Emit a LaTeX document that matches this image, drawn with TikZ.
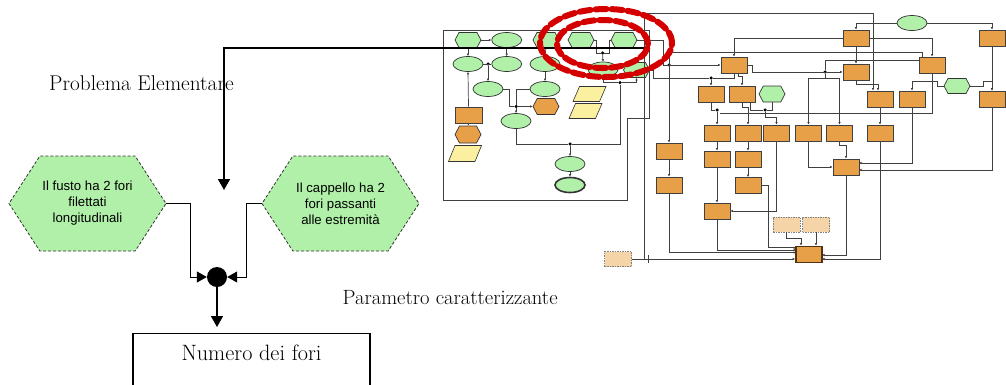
\documentclass[tikz,border=0pt]{standalone}
\usepackage{fontspec}
\newfontfamily\arialf{Liberation Sans}
\usetikzlibrary{arrows.meta,shapes.geometric,shapes.symbols}
\definecolor{hexgreen}{RGB}{176,240,168}
\definecolor{orangec}{RGB}{232,160,72}
\definecolor{yellowc}{RGB}{250,240,160}
\definecolor{peach}{RGB}{245,212,168}
\definecolor{redc}{RGB}{212,0,0}
\definecolor{brownc}{RGB}{80,50,20}
\begin{document}
\begin{tikzpicture}[x=1pt,y=-1pt,
  bighex/.style={signal, signal to=east and west, signal pointer angle=114,
    minimum width=157pt, minimum height=95pt, inner sep=0pt, fill=hexgreen,
    draw=black!80, dash pattern=on 3pt off 2pt, line width=0.8pt,
    font=\arialf\fontsize{13.2}{16}\selectfont, align=center},
  serif/.style={inner sep=0pt, font=\fontsize{21.3}{25}\selectfont},
  thinconn/.style={draw=black, line width=1pt, -{Triangle[length=10pt,width=11pt]}},
  thickconn/.style={draw=black, line width=1.6pt, -{Triangle[length=11pt,width=12pt]}},
  tb/.style={draw=black!75, line width=0.9pt, fill=orangec, minimum width=26pt, minimum height=16pt, inner sep=0pt},
  th/.style={signal, signal to=east and west, signal pointer angle=124, draw=black!80, line width=0.7pt, fill=hexgreen, minimum width=26pt, minimum height=15pt, inner sep=0pt},
  toh/.style={th, fill=orangec},
  te/.style={ellipse, draw=black!80, line width=0.7pt, fill=hexgreen, minimum width=30pt, minimum height=15pt, inner sep=0pt},
  tp/.style={minimum width=34pt, minimum height=16pt, inner sep=0pt,
    path picture={\draw[fill=yellowc, draw=black!80, line width=0.6pt]
      ([xshift=0.5pt,yshift=0.5pt]path picture bounding box.south west) --
      ([xshift=-7pt,yshift=0.5pt]path picture bounding box.south east) --
      ([xshift=-0.5pt,yshift=-0.5pt]path picture bounding box.north east) --
      ([xshift=7pt,yshift=-0.5pt]path picture bounding box.north west) -- cycle;}},
  td/.style={draw=black!50, dash pattern=on 1.5pt off 1pt, line width=0.6pt, fill=peach, minimum width=27pt, minimum height=15pt, inner sep=0pt},
  tl/.style={draw=black!75, line width=0.7pt},
  ta/.style={tl, -{Latex[length=2.5pt,width=2.5pt]}},
  jd/.style={circle, fill=black, minimum size=3.5pt, inner sep=0pt},
  redring/.style={draw=redc, line width=6pt, dash pattern=on 11pt off 5pt, line cap=round}
]
\useasboundingbox (0,0) rectangle (1006,384);

% ---------------- main (left) part ----------------
\node[serif, anchor=west] (pe) at (49,83) {Problema Elementare};
\node[serif, anchor=west, font=\fontsize{20.6}{24}\selectfont] (pc) at (342.5,298) {Parametro caratterizzante};
\node[bighex] (hexL) at (87.5,203.5) {Il fusto ha 2 fori\\filettati\\longitudinali};
\node[bighex] (hexR) at (340.5,203.5) {Il cappello ha 2\\fori passanti\\alle estremità};
\node[circle, fill=black, minimum size=20pt, inner sep=0pt] (junc) at (217,277) {};
\node[draw=black, line width=1.2pt, minimum width=237pt, minimum height=100pt, anchor=north, inner sep=0pt] (box) at (251.5,333) {};
\node[serif, font=\fontsize{22.2}{26}\selectfont] (boxlabel) at (251.5,353) {Numero dei fori};

\draw[thinconn] (hexL.east) -- (190,203.5) |- (junc.west);
\draw[thinconn] (hexR.west) -- (246,203.5) |- (junc.east);
\draw[thickconn, shorten >=6pt] (junc.south) -- (junc.south |- box.north);

% ---------------- thumbnail: left sub-diagram ----------------
\draw[tl] (443,30) -- (649,30) -- (649,118) -- (627,118) -- (627,200) -- (443,200) -- cycle;
\node[th] (LH1) at (468,40) {};
\node[te] (LE1) at (506.7,40) {};
\node[th] (LH2) at (546,40) {};
\node[th] (LH3) at (581,40) {};
\node[th] (LH4) at (624,40) {};
\node[te] (LE2) at (468,64) {};
\node[te] (LE3) at (506.7,64) {};
\node[te] (LE4) at (545,64) {};
\node[te] (LE5) at (603,69.5) {};
\node[th] (LH5) at (636.5,70) {};
\node[te] (LE6) at (488,89) {};
\node[te] (LE7) at (545,89) {};
\node[tp] (LP1) at (589.5,94) {};
\node[tp] (LP2) at (585.5,111) {};
\node[tb, minimum width=27pt] (LB1) at (468.5,115) {};
\node[toh, minimum height=16pt] (LOH1) at (546,106.5) {};
\node[te] (LE8) at (516,121) {};
\node[toh, minimum height=17pt] (LOH2) at (468,134.5) {};
\node[tp, minimum height=17pt] (LP3) at (465,153.5) {};
\node[te] (LE9) at (570,164) {};
\node[te, line width=1.6pt] (LE10) at (570,185) {};

\node[jd] (j6) at (488,64) {};
\node[jd] (j7) at (516,106.5) {};
\node[jd] (j8) at (570,144) {};
\node[jd] (j9) at (620,82.7) {};
\node[jd] (j10) at (602.5,53) {};

\draw[ta] (LH1.south) -- (LE2.north);
\draw[ta] (LH1.east) -- (LE1.west);
\draw[ta] (LE1.south) -- (LE3.north);
\draw[tl] (LE2.east) -- (LE3.west);
\draw[ta] (j6) -- (LE6.north);
\draw[ta] (LH2.south) -- (LE4.north);
\draw[ta] (LE4.south) -- (LE7.north);
\draw[tl] (LE6.east) -- (509,89) |- (j7);
\draw[tl] (LE7.west) -| (j7);
\draw[ta] (j7) -- (LOH1.west);
\draw[ta] (j7) -- (LE8.north);
\draw[tl] (LE8.south) |- (j8) -- (620,144) -- (j9);
\draw[ta] (j9) -| (LE5.south);
\draw[ta] (j9) -| (LH5.south);
\draw[ta] (j8) -- (LE9.north);
\draw[ta] (LE9.south) -- (LE10.north);
\draw[ta] (LB1.north) -- (LE2.south);
\draw[ta] (LB1.south) -- (LOH2.north);
\draw[tl] (LH3.east) -- (596,40) |- (j10);
\draw[tl] (LH4.west) -- (609,40) |- (j10);
\draw[ta] (j10) -- (LE5.north);

% ---------------- thumbnail: right part ----------------
\node[te] (RE1) at (912,23) {};
\node[tb] (R1) at (856,38) {};
\node[tb] (R2) at (992,38) {};
\node[tb] (R3) at (734,65) {};
\node[tb] (R4) at (856,72) {};
\node[tb] (R5) at (932,65) {};
\node[tb] (R6) at (711,94) {};
\node[tb] (R7) at (742,94) {};
\node[th, minimum height=16pt] (RH8) at (772,94) {};
\node[tb] (R9) at (880,99) {};
\node[tb] (R10) at (912,99) {};
\node[th] (RH11) at (957,86) {};
\node[tb] (R12) at (992,99) {};
\node[tb] (R13) at (717,133) {};
\node[tb] (R14) at (748,133) {};
\node[tb] (R15) at (776.5,133) {};
\node[tb] (R16) at (808.5,133) {};
\node[tb] (R17) at (839.5,133) {};
\node[tb] (R18) at (880,133) {};
\node[tb] (R19) at (669,151) {};
\node[tb] (R20) at (717,159) {};
\node[tb] (R21) at (748,159) {};
\node[tb] (R22) at (846,167) {};
\node[tb] (R23) at (669,185) {};
\node[tb] (R24) at (748,185.5) {};
\node[tb] (R25) at (717,211) {};
\node[td] (R26) at (786.5,224.5) {};
\node[td] (R27) at (816,224.5) {};
\node[tb, draw=brownc, line width=1.8pt] (R28) at (809,254.5) {};
\node[td] (R0) at (618,259) {};

\node[jd] (j1) at (669,65) {};
\node[jd] (j2) at (825,72) {};
\node[jd] (j3) at (711,78) {};
\node[jd] (j4) at (717,110) {};
\node[jd] (j5) at (765,110) {};

\draw[ta] (R0.east) -- (R0.east -| R28.west);
\draw[ta] (644,259) -- (644,13) -| ([xshift=-7pt]R9.north);
\draw[tl] (648,255) -- (648,263);
\draw[ta] (RE1.west) -| (R1.north);
\draw[ta] (RE1.east) -| (R2.north);
\draw[ta] (R1.west) -| (R3.north);
\draw[ta] (R1.east) -| (R5.north);
\draw[ta] (R1.south) -- (R4.north);
\draw[ta] ([xshift=-10pt]R5.north) |- (669,52) -- (R19.north);
\draw[ta] (LH4.east) -- (663,40) |- (R3.west);
\draw[ta] (R3.east) -- (752,65) |- (R4.west);
\draw[tl] (j2) -- (825,60) -- (919,60);
\draw[ta] (j2) -- (825,78) -| (R16.north);
\draw[ta] (825,78) -| (R17.north);
\draw[ta] (LH5.east) -- (653,70) |- (j3) -- (R6.north);
\draw[tl] (R3.south) |- (j3);
\draw[ta] ([xshift=4pt]R3.south) -- (738,76) -| (R7.north);
\draw[tl] (R6.south) |- (j4);
\draw[ta] (j4) -- (R13.north);
\draw[tl] (R5.south) |- (720,113);
\draw[ta] (R7.south) -- (742,107) -| (R14.north);
\draw[tl] ([xshift=8pt]R7.south) |- (j5);
\draw[tl] (RH8.south) |- (j5);
\draw[ta] (j5) -- (765,117) -| (R15.north);
\draw[ta] (R13.south) -- (R20.north);
\draw[ta] (R20.south) -- (R25.north);
\draw[ta] (R14.south) -- (R21.north);
\draw[ta] (R21.south) -- (R24.north);
\draw[ta] (R15.south) |- (R25.east);
\draw[ta] (R16.south) |- (R22.west);
\draw[ta] (R17.south) -- (839.5,145) -| (R22.north);
\draw[ta] (R4.south) -- (856,84) -| ([xshift=-2pt]R9.north);
\draw[ta] (R9.south) -- (R18.north);
\draw[ta] (R18.south) |- (822,259);
\draw[ta] (RH11.west) -- (937,86) |- (912,81) -- (R10.north);
\draw[ta] (RH11.east) -- (983,86) |- (992,81) -- (R12.north);
\draw[ta] (R2.south) -- (R12.north);
\draw[ta] (R10.south) |- (859,163);
\draw[ta] (R12.south) |- (859,170);
\draw[ta] (R22.south) |- (822,255);
\draw[ta] (R19.south) -- (R23.north);
\draw[ta] (R23.south) |- (796,252.5);
\draw[ta] (R25.south) |- (796,250);
\draw[ta] (R24.east) -- (768,185.5) |- (796,247.8);
\draw[ta] (R26.south) -- (786.5,238) -| ([xshift=-8pt]R28.north);
\draw[ta] (R27.south) -- (R27.south |- R28.north);

% ---------------- big connector from the thumbnail ----------------
\coordinate (src) at (644,48);
\coordinate (drop) at (224,190);
\draw[thickconn] (src) -| (drop);

% ---------------- red highlight rings ----------------
\draw[redring] (606,43) ellipse (66pt and 34pt);
\draw[redring] (602.5,44) ellipse (45.5pt and 24pt);
\end{tikzpicture}
\end{document}
